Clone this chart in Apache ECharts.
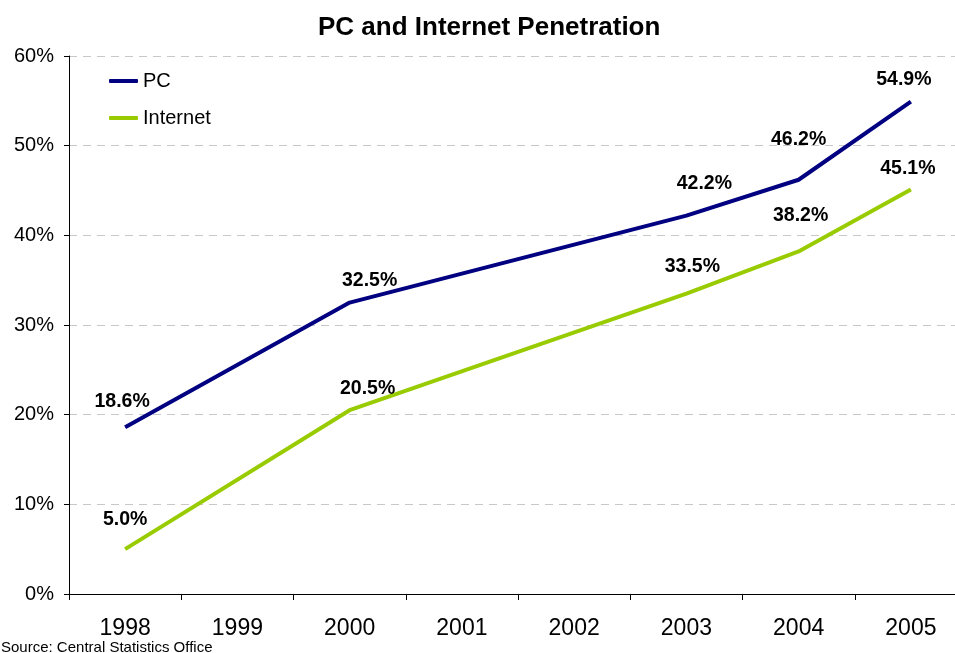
<!DOCTYPE html>
<html>
<head>
<meta charset="utf-8">
<style>
  html, body { margin: 0; padding: 0; background: #fff; overflow: hidden; }
  /* plot area runs past the right edge of the window, so the canvas is a bit wider */
  #chart { width: 975px; height: 653px; }
</style>
<script src="https://cdn.jsdelivr.net/npm/echarts@6/dist/echarts.min.js"></script>
</head>
<body>
<div id="chart"></div>
<script>
// Survey years on the category axis
const years = ['1998', '1999', '2000', '2001', '2002', '2003', '2004', '2005'];
// Household penetration (%); null = no survey that year
const pcShare = [18.6, null, 32.5, null, null, 42.2, 46.2, 54.9];
const internetShare = [5.0, null, 20.5, null, null, 33.5, 38.2, 45.1];
// Y axis ticks (%)
const yMin = 0, yMax = 60, yStep = 10;

// Per-point label nudges [dx, dy] so labels clear the lines
const pcNudge = [[-3, -11], null, [20, -7], null, null, [18, -17], [0, -25], [-7, -7]];
const internetNudge = [[0, -15], null, [18, -7], null, null, [6, -12], [2, -21], [-3, -6]];

const FONT = 'Liberation Sans, Arial, sans-serif';

function seriesData(values, nudges) {
  return values.map((v, i) => {
    if (v === null) return null;
    return { value: v, label: { offset: nudges[i] } };
  });
}

const labelStyle = {
  show: true,
  position: 'top',
  distance: 5,
  color: '#000',
  fontFamily: FONT,
  fontWeight: 'bold',
  fontSize: 19.5,
  formatter: p => p.value.toFixed(1) + '%'
};

const chart = echarts.init(document.getElementById('chart'), null, { renderer: 'canvas' });
chart.setOption({
  animation: false,
  backgroundColor: '#fff',
  title: {
    text: 'PC and Internet Penetration',
    left: 313,
    top: 10,
    textStyle: { fontFamily: FONT, fontWeight: 'bold', fontSize: 26, color: '#000' }
  },
  legend: {
    orient: 'vertical',
    left: 104,
    top: 66,
    itemGap: 17,
    icon: 'roundRect',
    itemWidth: 29,
    itemHeight: 4,
    textStyle: { fontFamily: FONT, fontSize: 20, color: '#000' },
    data: ['PC', 'Internet']
  },
  grid: { left: 69, top: 56, width: 898, height: 538, containLabel: false },
  xAxis: {
    type: 'category',
    data: years,
    boundaryGap: true,
    axisLine: { lineStyle: { color: '#000', width: 1 } },
    axisTick: { show: true, length: 6, lineStyle: { color: '#000' } },
    axisLabel: { fontFamily: FONT, fontSize: 23, color: '#000', margin: 23 },
    splitLine: { show: false }
  },
  yAxis: {
    type: 'value',
    min: yMin,
    max: yMax,
    interval: yStep,
    axisLine: { show: true, lineStyle: { color: '#000', width: 1 } },
    axisTick: { show: true, length: 5, lineStyle: { color: '#000' } },
    axisLabel: { fontFamily: FONT, fontSize: 20, color: '#000', margin: 15, formatter: '{value}%' },
    splitLine: { show: true, lineStyle: { color: '#c8c8c8', type: [8, 6], width: 1 } }
  },
  series: [
    {
      name: 'PC',
      type: 'line',
      data: seriesData(pcShare, pcNudge),
      connectNulls: true,
      symbol: 'circle',
      symbolSize: 0.01,
      showSymbol: true,
      color: '#000080',
      lineStyle: { color: '#000080', width: 4 },
      label: labelStyle,
      z: 3
    },
    {
      name: 'Internet',
      type: 'line',
      data: seriesData(internetShare, internetNudge),
      connectNulls: true,
      symbol: 'circle',
      symbolSize: 0.01,
      showSymbol: true,
      color: '#99cc00',
      lineStyle: { color: '#99cc00', width: 4 },
      label: labelStyle,
      z: 2
    }
  ],
  graphic: [
    {
      type: 'text',
      left: 1,
      top: 640,
      style: { text: 'Source: Central Statistics Office', font: '15px ' + FONT, fill: '#000' }
    }
  ]
});
</script>
</body>
</html>
